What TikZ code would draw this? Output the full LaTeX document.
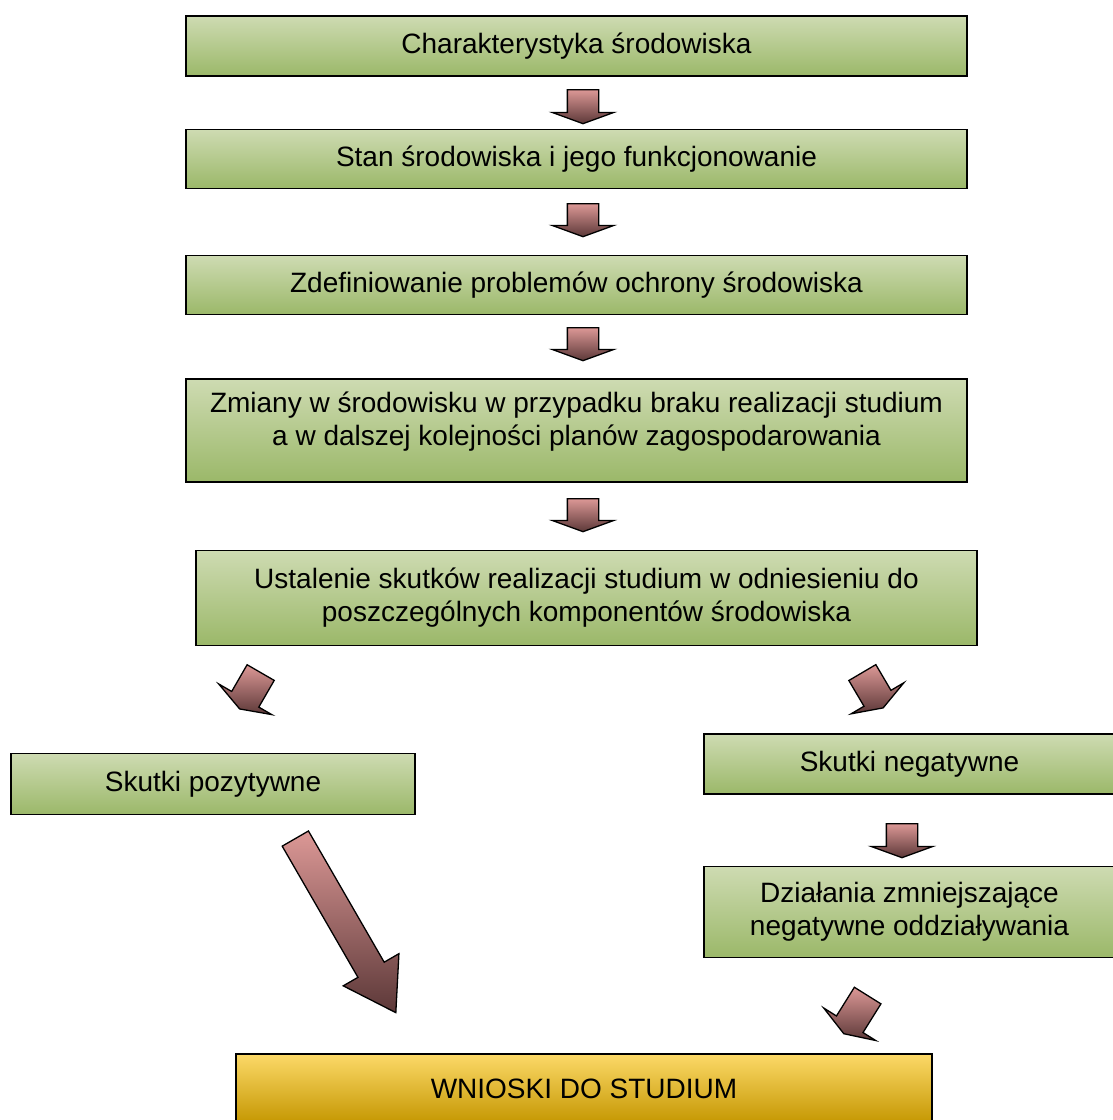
\documentclass[tikz,border=0pt]{standalone}
\usepackage{fontspec}
\setmainfont{Liberation Sans}
\usetikzlibrary{positioning, shapes.arrows}
\definecolor{boxtop}{RGB}{206,219,178}
\definecolor{boxbot}{RGB}{155,184,105}
\definecolor{wntop}{RGB}{252,217,104}
\definecolor{wnbot}{RGB}{196,150,0}
\definecolor{arrtail}{RGB}{220,152,150}
\definecolor{arrtip}{RGB}{92,56,56}

\begin{document}
\begin{tikzpicture}[x=1pt, y=-1pt, node distance=52pt and 10pt,
    every node/.style={font=\fontsize{28}{33}\selectfont},
    box/.style={draw, line width=1.3pt, top color=boxtop, bottom color=boxbot, align=center, minimum width=781pt, minimum height=60pt, inner sep=0pt},
    blk/.style={single arrow, draw, line width=1.3pt, inner xsep=0pt, inner ysep=15pt, single arrow head extend=15pt, single arrow tip angle=140, minimum height=#1, anchor=tail, top color=arrtail, bottom color=arrtip}]
    \useasboundingbox (0,0) rectangle (1113,1120);
    \clip (0,0) rectangle (1113,1120);
    \node[box] (b1) at (576.5,46) {Charakterystyka środowiska};
    \node[box, below=52pt of b1, minimum height=59pt] (b2) {Stan środowiska i jego funkcjonowanie};
    \node[box, below=66pt of b2, minimum height=59pt] (b3) {Zdefiniowanie problemów ochrony środowiska};
    \node[box, below=63pt of b3, minimum height=103pt, text depth=24pt] (b4) {Zmiany w środowisku w przypadku braku realizacji studium\\a w dalszej kolejności planów zagospodarowania};
    \node[box, below=67pt of b4, xshift=10pt, minimum height=95pt] (b5) {Ustalenie skutków realizacji studium w odniesieniu do\\poszczególnych komponentów środowiska};
    \node[box, minimum width=404pt, minimum height=61pt] (pos) at (213,784) {Skutki pozytywne};
    \node[box, minimum width=411pt] (neg) at (909.5,764) {Skutki negatywne};
    \node[box, below=71pt of neg, minimum width=411pt, minimum height=91pt] (dzial) {Działania zmniejszające\\negatywne oddziaływania};
    \node[box, top color=wntop, bottom color=wnbot, minimum width=696pt, minimum height=70pt] (wnioski) at (584,1089) {WNIOSKI DO STUDIUM};
    \node[blk=34pt, rotate=-90] (a1) at (583,89) {};
    \node[blk=33pt, rotate=-90] (a2) at (583,203) {};
    \node[blk=33pt, rotate=-90] (a3) at (583,327) {};
    \node[blk=33pt, rotate=-90] (a4) at (583,498) {};
    \node[blk=42pt, rotate=-120] (a5) at (261,672) {};
    \node[blk=41pt, rotate=-59.5] (a6) at (862,672) {};
    \node[blk=34pt, rotate=-90] (a7) at (902,823) {};
    \node[blk=201pt, rotate=-60, inner ysep=14.5pt, single arrow head extend=17pt, single arrow tip angle=66] (a8) at (295,838) {};
    \node[blk=45pt, rotate=-122] (a9) at (868,995) {};
\end{tikzpicture}
\end{document}
